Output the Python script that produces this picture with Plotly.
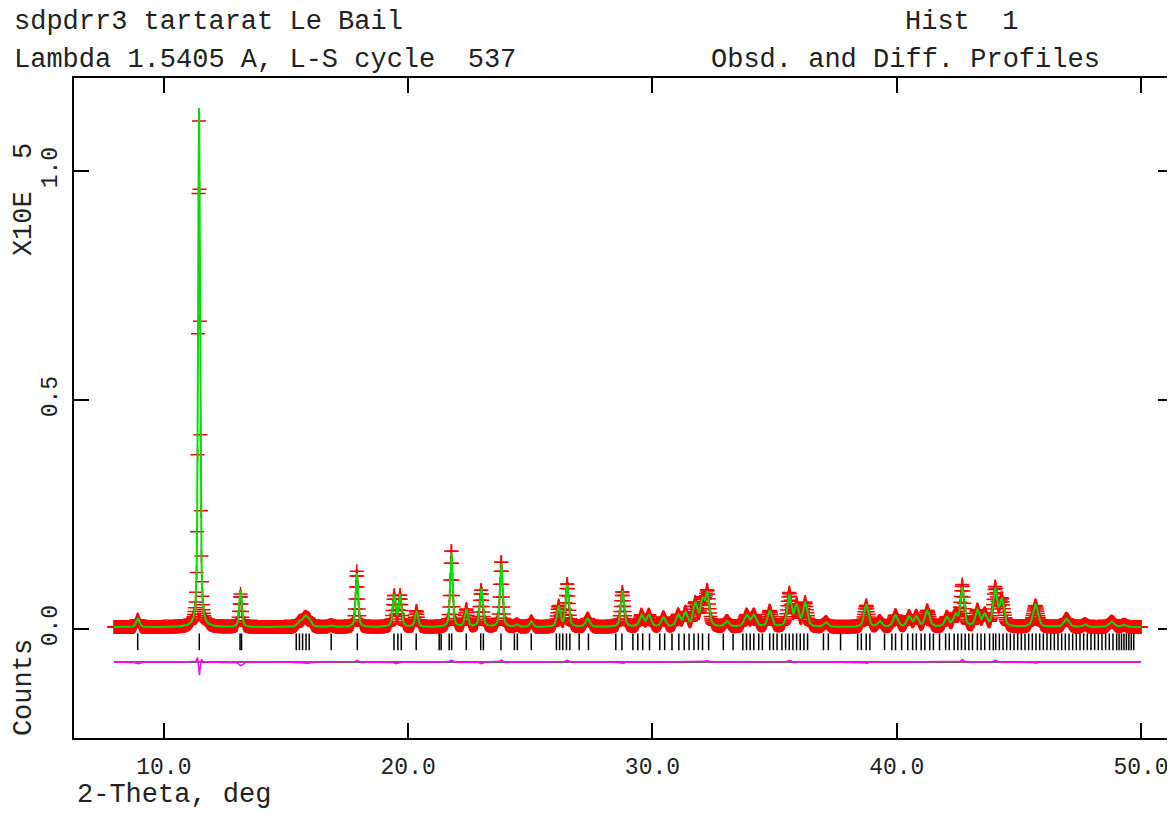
import numpy as np
import plotly.graph_objects as go

# ---- data (intensity in units of 10^5 counts) ----
two_theta_start = 7.96
two_theta_end = 50.0
two_theta_step = 0.02
background_level = 0.004

peak_pos = [8.93, 11.44, 11.50, 13.14, 15.55, 15.78, 15.95, 16.85, 17.90,
            19.43, 19.67, 20.34, 21.77, 22.38, 22.99, 23.81, 24.45, 25.04,
            26.16, 26.51, 27.35, 28.77, 29.55, 29.85, 30.45, 31.05, 31.35,
            31.75, 32.05, 32.25, 33.05, 33.85, 34.15, 34.80, 35.60, 35.90,
            36.25, 37.10, 38.75, 39.30, 39.95, 40.50, 40.80, 41.25, 42.05,
            42.40, 42.68, 43.30, 43.60, 44.03, 44.30, 45.68, 46.95, 47.70,
            48.80, 49.30]
peak_height = [0.020, 1.110, 0.060, 0.080, 0.010, 0.022, 0.012, 0.004, 0.118,
               0.070, 0.068, 0.035, 0.165, 0.038, 0.085, 0.140, 0.005, 0.012,
               0.045, 0.090, 0.018, 0.080, 0.025, 0.025, 0.020, 0.025, 0.030,
               0.050, 0.055, 0.070, 0.012, 0.025, 0.025, 0.035, 0.068, 0.045,
               0.052, 0.010, 0.050, 0.012, 0.025, 0.022, 0.022, 0.035, 0.020,
               0.025, 0.085, 0.035, 0.025, 0.080, 0.058, 0.050, 0.018, 0.006,
               0.012, 0.005]
peak_fwhm = [0.15, 0.09, 0.10, 0.12, 0.20, 0.25, 0.20, 0.20, 0.12,
             0.14, 0.14, 0.14, 0.12, 0.15, 0.15, 0.13, 0.15, 0.15,
             0.16, 0.15, 0.20, 0.16, 0.20, 0.20, 0.20, 0.20, 0.20,
             0.20, 0.20, 0.18, 0.20, 0.22, 0.22, 0.20, 0.20, 0.20,
             0.20, 0.20, 0.20, 0.20, 0.22, 0.20, 0.20, 0.22, 0.20,
             0.20, 0.18, 0.20, 0.20, 0.20, 0.20, 0.24, 0.25, 0.20,
             0.25, 0.20]

# difference (obs - calc) features
diff_pos = [8.93, 11.38, 11.45, 11.52, 13.14, 15.8, 17.9, 19.5, 21.77, 22.99,
            23.81, 26.5, 28.77, 32.2, 35.6, 38.75, 42.68, 44.03, 45.68]
diff_amp = [-0.004, 0.012, -0.032, 0.008, -0.008, -0.003, 0.004, -0.004, 0.004,
            -0.004, 0.004, 0.004, -0.003, 0.003, 0.004, -0.003, 0.005, 0.004, -0.003]
diff_width = [0.10, 0.03, 0.03, 0.03, 0.08, 0.15, 0.05, 0.08, 0.05, 0.06,
              0.05, 0.06, 0.06, 0.08, 0.06, 0.06, 0.05, 0.05, 0.06]
diff_offset = -0.072
refl_level = -0.028

reflections = [8.93, 11.45, 13.12, 13.18, 15.42, 15.55, 15.68, 15.82, 15.95, 16.85,
               17.92, 19.42, 19.58, 19.72, 20.33, 21.27, 21.35, 21.68, 21.78, 22.38,
               22.97, 23.08, 23.80, 24.35, 24.47, 25.04, 26.07, 26.20, 26.33, 26.48,
               26.62, 27.00, 27.38, 28.50, 28.75, 29.20, 29.40, 29.60, 29.88, 30.30,
               30.50, 30.80, 31.08, 31.30, 31.50, 31.70, 31.88, 32.05, 32.30, 32.90,
               33.30, 33.70, 33.85, 34.00, 34.15, 34.35, 34.50, 34.80, 34.95, 35.10,
               35.30, 35.45, 35.60, 35.75, 35.90, 36.05, 36.20, 36.35, 37.00, 37.20,
               37.70, 38.40, 38.55, 38.75, 38.90, 39.50, 39.80, 39.95, 40.20, 40.45,
               40.65, 40.80, 41.00, 41.15, 41.35, 41.50, 41.75, 42.00, 42.15, 42.35,
               42.50, 42.65, 42.80, 42.95, 43.10, 43.30, 43.45, 43.60, 43.80, 43.95,
               44.05, 44.20, 44.35, 44.50, 44.65, 44.80, 44.95, 45.10, 45.25, 45.40,
               45.55, 45.70, 45.85, 46.00, 46.15, 46.30, 46.45, 46.60, 46.75, 46.90,
               47.05, 47.20, 47.35, 47.50, 47.65, 47.80, 47.95, 48.10, 48.25, 48.40,
               48.55, 48.70, 48.85, 49.00, 49.10, 49.20, 49.30, 49.40, 49.50, 49.60,
               49.70]

x_ticks = [10, 20, 30, 40, 50]
x_tick_labels = ["10.0", "20.0", "30.0", "40.0", "50.0"]
y_ticks = [0.0, 0.5, 1.0]
y_tick_labels = ["0.0", "0.5", "1.0"]

# ---- build profiles from the peak table ----
tt = np.arange(two_theta_start, two_theta_end + 1e-9, two_theta_step)
calc = np.full_like(tt, background_level)
for p, h, w in zip(peak_pos, peak_height, peak_fwhm):
    d = (tt - p) / w
    calc += h * (0.5 * np.exp(-4 * np.log(2) * d * d) + 0.5 / (1 + 4 * d * d))
diff = np.zeros_like(tt)
for p, a, w in zip(diff_pos, diff_amp, diff_width):
    diff += a * np.exp(-0.5 * ((tt - p) / w) ** 2)
obs = calc + diff

FONT = "Liberation Mono"
OFF = 8  # page body margin
W, H = 1175 - OFF, 813 - OFF
# plot box in page pixels
PL, PR, PT, PB = 74, 1175, 78, 738
L, R, T, B = PL - OFF, PR - OFF, PT - OFF, PB - OFF

fig = go.Figure()
fig.add_trace(go.Scatter(x=tt, y=obs, mode="markers",
                         marker=dict(symbol="cross-thin", size=10, color="red",
                                     line=dict(color="red", width=1.5)),
                         hoverinfo="skip"))
fig.add_trace(go.Scatter(x=tt, y=calc, mode="lines",
                         line=dict(color="#00e000", width=2), hoverinfo="skip"))
fig.add_trace(go.Scatter(x=[two_theta_start, two_theta_end], y=[diff_offset, diff_offset],
                         mode="lines", line=dict(color="#333333", width=1.5), hoverinfo="skip"))
fig.add_trace(go.Scatter(x=tt, y=diff + diff_offset, mode="lines",
                         line=dict(color="#ff00ff", width=1.5), hoverinfo="skip"))
fig.add_trace(go.Scatter(x=reflections, y=[refl_level] * len(reflections), mode="markers",
                         marker=dict(symbol="line-ns-open", size=12, color="black",
                                     line=dict(color="black", width=1.5)),
                         hoverinfo="skip"))

x0 = 10 - (164 - PL) / 24.475
x1 = 10 + (PR - 164) / 24.475
y_per = 458.0
y1 = 1.0 + (171 - PT) / y_per
y0 = -(PB - 629) / y_per

fig.update_xaxes(range=[x0, x1], showgrid=False, zeroline=False,
                 showline=True, linecolor="black", linewidth=2, mirror="ticks",
                 ticks="inside", ticklen=15, tickwidth=1.5, tickcolor="black",
                 tickvals=x_ticks, ticktext=x_tick_labels, ticklabelstandoff=6,
                 tickfont=dict(family=FONT, size=23, color="#222"))
fig.update_yaxes(range=[y0, y1], showgrid=False, zeroline=False,
                 showline=True, linecolor="black", linewidth=2, mirror="ticks",
                 ticks="inside", ticklen=15, tickwidth=1.5, tickcolor="black",
                 tickvals=y_ticks, ticktext=y_tick_labels, tickangle=-90,
                 ticklabelstandoff=6,
                 tickfont=dict(family=FONT, size=23, color="#222"))

def px(xp):
    return (xp - PL) / (PR - PL)

def py(yp):
    return (PB - yp) / (PB - PT)

texts = [
    ("sdpdrr3 tartarat Le Bail", 12, 22),
    ("Lambda 1.5405 A, L-S cycle  537", 12, 60),
    ("Hist  1", 905, 22),
    ("Obsd. and Diff. Profiles", 710, 60),
    ("2-Theta, deg", 75, 795),
]
ann = []
for t, xp, yp in texts:
    ann.append(dict(text=t, xref="paper", yref="paper", x=px(xp), y=py(yp),
                    xanchor="left", yanchor="middle", showarrow=False,
                    font=dict(family=FONT, size=27, color="#222")))
ann.append(dict(text="X10E  5", xref="paper", yref="paper", x=px(24), y=py(200),
                xanchor="center", yanchor="middle", showarrow=False, textangle=-90,
                font=dict(family=FONT, size=27, color="#222")))
ann.append(dict(text="Counts", xref="paper", yref="paper", x=px(24), y=py(688),
                xanchor="center", yanchor="middle", showarrow=False, textangle=-90,
                font=dict(family=FONT, size=27, color="#222")))

fig.update_layout(width=W, height=H, margin=dict(l=L, r=W - R, t=T, b=H - B),
                  paper_bgcolor="white", plot_bgcolor="white", showlegend=False,
                  annotations=ann)
fig.write_html("out.html")
